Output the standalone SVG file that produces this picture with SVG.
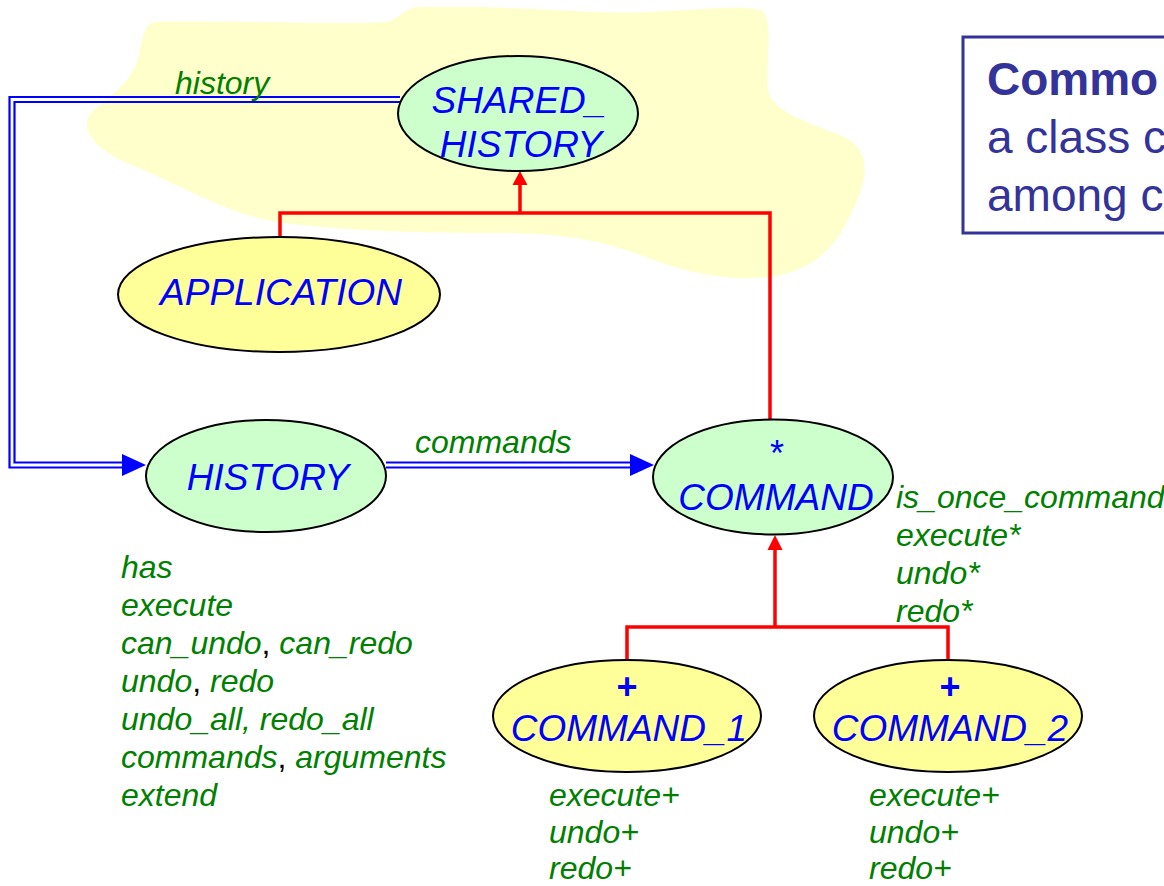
<svg xmlns="http://www.w3.org/2000/svg" width="1164" height="886" viewBox="0 0 1164 886">
  <style>
    .cls { font-family: "Liberation Sans", Arial, sans-serif; font-style: italic; font-size: 37px; fill: #0000ff; text-anchor: middle; }
    .mark { font-family: "Liberation Sans", Arial, sans-serif; font-size: 36px; fill: #0000ff; text-anchor: middle; }
    .feat { font-family: "Liberation Sans", Arial, sans-serif; font-style: italic; font-size: 32px; fill: #008000; }
    .sep { fill: #000000; font-style: normal; }
    .note { font-family: "Liberation Sans", Arial, sans-serif; font-size: 46px; fill: #333399; }
    .deferred { fill: #ccffcc; stroke: #000000; stroke-width: 2; }
    .effective { fill: #ffff99; stroke: #000000; stroke-width: 2; }
    .client { fill: none; stroke: #0000ff; stroke-width: 2.2; }
    .inherit { fill: none; stroke: #ff0000; stroke-width: 3.5; }
  </style>

  <!-- shared region -->
  <path id="cluster" fill="#ffffcc"
        d="M 157 22 C 220 20 340 25 385 22 C 400 20 402 8 420 7 C 520 5 600 15 650 12 C 700 10 740 5 760 10
           C 775 15 765 60 768 90 C 772 110 800 120 840 135 C 872 148 868 178 855 205 C 840 240 820 270 770 277
           C 720 282 680 270 640 255 C 600 240 560 232 480 233 C 420 233 320 230 267 220 C 220 210 170 180 120 160
           C 90 145 80 125 92 112 C 115 92 135 80 140 50 C 143 30 148 22 157 22 Z"/>

  <!-- note box -->
  <g id="note">
    <rect x="963" y="37" width="260" height="196" fill="#ffffff" stroke="#333399" stroke-width="3"/>
    <text class="note" x="987" y="95" font-weight="bold">Commo</text>
    <text class="note" x="987" y="153">a class c</text>
    <text class="note" x="987" y="211">among c</text>
  </g>

  <!-- connectors -->
  <g id="connectors">
    <!-- client: HISTORY -> SHARED_HISTORY (history) -->
    <path class="client" d="M 400 97 H 9.5 V 467.5 H 124"/>
    <path class="client" d="M 400 102 H 14.5 V 462.5 H 124"/>
    <polygon fill="#0000ff" points="146,465 122,454 122,476"/>
    <text class="feat" x="175" y="94">history</text>

    <!-- client: HISTORY -> COMMAND (commands) -->
    <path class="client" d="M 386 462.5 H 632"/>
    <path class="client" d="M 386 467.5 H 632"/>
    <polygon fill="#0000ff" points="654,465 630,454 630,476"/>
    <text class="feat" x="415" y="453">commands</text>

    <!-- inheritance: APPLICATION, COMMAND -> SHARED_HISTORY -->
    <path class="inherit" d="M 280 238 V 213 H 770 V 421"/>
    <path class="inherit" d="M 520 213 V 183"/>
    <polygon fill="#ff0000" points="520,171 512.5,185 527.5,185"/>

    <!-- inheritance: COMMAND_1, COMMAND_2 -> COMMAND -->
    <path class="inherit" d="M 627 661 V 627 H 948 V 661"/>
    <path class="inherit" d="M 775 627 V 549"/>
    <polygon fill="#ff0000" points="775,535 767.5,550 782.5,550"/>
  </g>

  <!-- nodes -->
  <g id="shared_history">
    <ellipse class="deferred" cx="518" cy="113.5" rx="120" ry="57.5"/>
    <text class="cls" x="519" y="113">SHARED_</text>
    <text class="cls" x="521" y="157">HISTORY</text>
  </g>

  <g id="application">
    <ellipse class="effective" cx="279" cy="294.5" rx="161" ry="57.5"/>
    <text class="cls" x="281" y="305">APPLICATION</text>
  </g>

  <g id="history">
    <ellipse class="deferred" cx="266" cy="476" rx="120" ry="56"/>
    <text class="cls" x="268" y="490">HISTORY</text>
    <text class="feat" x="121" y="578">has</text>
    <text class="feat" x="121" y="616">execute</text>
    <text class="feat" x="121" y="654">can_undo<tspan class="sep">,</tspan> can_redo</text>
    <text class="feat" x="121" y="692">undo<tspan class="sep">,</tspan> redo</text>
    <text class="feat" x="121" y="730">undo_all, redo_all</text>
    <text class="feat" x="121" y="768">commands<tspan class="sep">,</tspan> arguments</text>
    <text class="feat" x="121" y="806">extend</text>
  </g>

  <g id="command">
    <ellipse class="deferred" cx="773" cy="477" rx="120" ry="57.5"/>
    <text class="mark" x="777" y="466">*</text>
    <text class="cls" x="776" y="510">COMMAND</text>
    <text class="feat" x="896" y="508">is_once_command</text>
    <text class="feat" x="896" y="546">execute*</text>
    <text class="feat" x="896" y="584">undo*</text>
    <text class="feat" x="896" y="622">redo*</text>
  </g>

  <g id="command_1">
    <ellipse class="effective" cx="627" cy="716" rx="134" ry="56"/>
    <text class="mark" x="627" y="699" font-weight="bold">+</text>
    <text class="cls" x="629" y="741">COMMAND_1</text>
    <text class="feat" x="549" y="806">execute+</text>
    <text class="feat" x="549" y="843">undo+</text>
    <text class="feat" x="549" y="879">redo+</text>
  </g>

  <g id="command_2">
    <ellipse class="effective" cx="948" cy="716" rx="134" ry="56"/>
    <text class="mark" x="950" y="699" font-weight="bold">+</text>
    <text class="cls" x="950" y="741">COMMAND_2</text>
    <text class="feat" x="869" y="806">execute+</text>
    <text class="feat" x="869" y="843">undo+</text>
    <text class="feat" x="869" y="879">redo+</text>
  </g>
</svg>
